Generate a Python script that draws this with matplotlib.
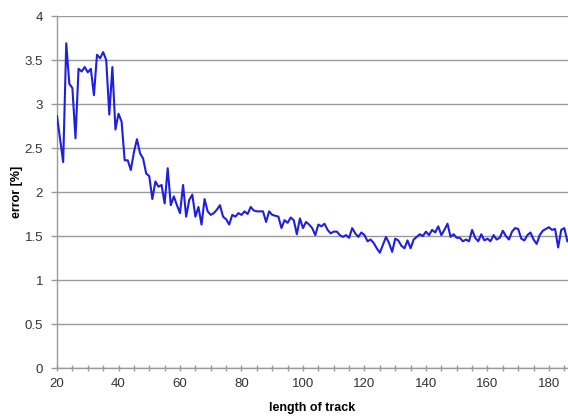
import numpy as np
import matplotlib.pyplot as plt
from matplotlib.ticker import MultipleLocator

# track length (one point per unit)
track_len = np.arange(20, 187)

# error in percent
error_pct = [
    2.86, 2.60, 2.34, 3.69, 3.23, 3.18, 2.61, 3.40, 3.37, 3.42,   # 20-29
    3.36, 3.40, 3.10, 3.56, 3.52, 3.59, 3.50, 2.88, 3.42, 2.71,   # 30-39
    2.89, 2.80, 2.36, 2.36, 2.25, 2.45, 2.60, 2.44, 2.38, 2.21,   # 40-49
    2.18, 1.92, 2.12, 2.06, 2.08, 1.87, 2.27, 1.85, 1.95, 1.85,   # 50-59
    1.76, 2.08, 1.72, 1.91, 1.97, 1.72, 1.83, 1.63, 1.92, 1.78,   # 60-69
    1.74, 1.76, 1.80, 1.85, 1.72, 1.69, 1.63, 1.74, 1.72, 1.76,   # 70-79
    1.74, 1.78, 1.75, 1.83, 1.79, 1.78, 1.78, 1.78, 1.66, 1.78,   # 80-89
    1.74, 1.73, 1.72, 1.59, 1.68, 1.65, 1.71, 1.68, 1.52, 1.70,   # 90-99
    1.59, 1.66, 1.63, 1.59, 1.51, 1.63, 1.61, 1.64, 1.57, 1.53,   # 100-109
    1.55, 1.55, 1.51, 1.49, 1.51, 1.48, 1.59, 1.53, 1.49, 1.54,   # 110-119
    1.51, 1.44, 1.46, 1.42, 1.36, 1.31, 1.40, 1.49, 1.42, 1.32,   # 120-129
    1.47, 1.45, 1.39, 1.36, 1.45, 1.36, 1.46, 1.49, 1.52, 1.50,   # 130-139
    1.55, 1.51, 1.57, 1.54, 1.61, 1.51, 1.57, 1.64, 1.49, 1.52,   # 140-149
    1.48, 1.48, 1.44, 1.46, 1.44, 1.57, 1.48, 1.44, 1.52, 1.45,   # 150-159
    1.47, 1.44, 1.51, 1.46, 1.48, 1.56, 1.50, 1.46, 1.55, 1.59,   # 160-169
    1.58, 1.47, 1.45, 1.51, 1.54, 1.46, 1.41, 1.51, 1.56, 1.58,   # 170-179
    1.60, 1.57, 1.58, 1.37, 1.57, 1.59, 1.44,                     # 180-186
]

x_ticks = [20, 40, 60, 80, 100, 120, 140, 160, 180]
y_ticks = [0, 0.5, 1, 1.5, 2, 2.5, 3, 3.5, 4]
y_tick_labels = ["0", "0.5", "1", "1.5", "2", "2.5", "3", "3.5", "4"]

plt.rcParams["font.family"] = ["Liberation Sans", "DejaVu Sans"]

fig = plt.figure(figsize=(5.68, 4.19), dpi=100)
ax = fig.add_axes([0.1004, 0.1217, 0.8996, 0.8401])

ax.plot(track_len, error_pct, color="#1f1fe0", linewidth=1.5, zorder=3)

ax.set_xlim(20, 186.2)
ax.set_ylim(0, 4)

ax.set_yticks(y_ticks)
ax.set_yticklabels(y_tick_labels)
ax.set_xticks(x_ticks)
ax.xaxis.set_minor_locator(MultipleLocator(5))

ax.yaxis.grid(True, color="#9a9a9a", linewidth=1.0)
ax.set_axisbelow(True)

for side in ("top", "right"):
    ax.spines[side].set_visible(False)
for side in ("left", "bottom"):
    ax.spines[side].set_color("#9a9a9a")
    ax.spines[side].set_linewidth(1.0)

ax.tick_params(axis="y", direction="out", length=4, width=1, color="#9a9a9a",
               labelsize=9.5, labelcolor="#333333", pad=6)
ax.tick_params(axis="x", which="both", direction="inout", length=5, width=1,
               color="#9a9a9a", labelsize=9.5, labelcolor="#333333", pad=5)

ax.set_xlabel("length of track", fontsize=9, fontweight="bold", labelpad=8)
ax.set_ylabel("error [%]", fontsize=9, fontweight="bold")
ax.yaxis.set_label_coords(-0.066, 0.5)

fig.savefig("out.png", dpi=100)
